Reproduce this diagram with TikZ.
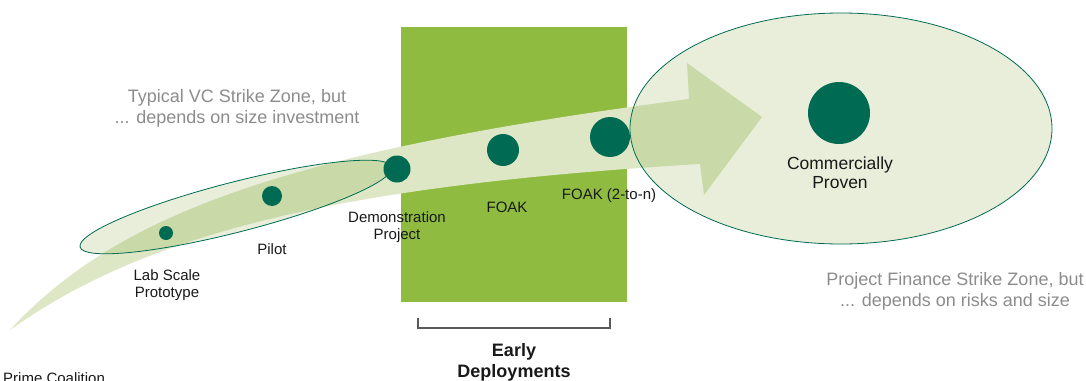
\documentclass[tikz,border=0pt]{standalone}
\usepackage{fontspec}
\setmainfont{Liberation Sans}
\definecolor{dotgreen}{RGB}{0,107,82}
\definecolor{boxgreen}{RGB}{142,187,64}
\definecolor{bandgreen}{RGB}{221,231,198}
\definecolor{zonegreen}{RGB}{98,139,0}
\definecolor{zonegrey}{RGB}{140,140,140}
\definecolor{labelblack}{RGB}{25,25,25}
\definecolor{bracketgrey}{RGB}{90,90,90}

\begin{document}
\begin{tikzpicture}[x=1pt,y=-1pt,
	stage/.style={circle,fill=dotgreen,inner sep=0pt,minimum size=#1},
	lbl/.style={font=\fontsize{15}{17}\selectfont,text=labelblack,align=center,inner sep=0pt,anchor=base},
	zone/.style={draw=dotgreen,line width=0.8pt,fill=zonegreen,fill opacity=0.15},
	zonetxt/.style={font=\fontsize{18}{21}\selectfont,text=zonegrey,align=center,inner sep=0pt,anchor=base}]
	\useasboundingbox (0,0) rectangle (1086,380);
	\fill[boxgreen] (401,27) rectangle (627,302);
	\coordinate (tail) at (10,330);
	\coordinate (shafttop) at (689,99);
	\coordinate (shaftbot) at (700,164);
	\fill[bandgreen] (tail) .. controls (120,210) and (300,150) .. (shafttop) -- (687,63) -- (762,117) -- (704,195) -- (shaftbot) .. controls (350,185) and (150,230) .. (tail) -- cycle;
	\path[zone] (841,128.5) ellipse [x radius=211, y radius=115.5];
	\path[zone, rotate around={14.4:(236,207)}] (236,207) ellipse [x radius=161, y radius=25];
	\node[stage=14pt] (lab) at (166,233) {};
	\node[stage=20pt] (pilot) at (272,196) {};
	\node[stage=27pt] (demo) at (397,169) {};
	\node[stage=32pt] (foak) at (503,150) {};
	\node[stage=40pt] (foakn) at (610,137) {};
	\node[stage=62pt] (comm) at (839,113) {};
	\node[lbl] (labtxt) at (167,297) {Lab Scale\\Prototype};
	\node[lbl] (pilottxt) at (272,254) {Pilot};
	\node[lbl] (demotxt) at (397,239) {Demonstration\\Project};
	\node[lbl] (foaktxt) at (507,212) {FOAK};
	\node[lbl] (foakntxt) at (609,199) {FOAK (2-to-n)};
	\node[lbl, font=\fontsize{17.5}{19}\selectfont] (commtxt) at (840,188) {Commercially\\Proven};
	\node[zonetxt] (vctxt) at (237,123) {Typical VC Strike Zone, but\\... depends on size investment};
	\node[zonetxt] (pftxt) at (955,306) {Project Finance Strike Zone, but\\... depends on risks and size};
	\coordinate (brl) at (418,318);
	\coordinate (brr) at (610,318);
	\draw[bracketgrey, line width=1.5pt] (brl) -- ++(0,10) -| (brr);
	\node[lbl, font=\bfseries\fontsize{18}{21}\selectfont] (early) at (514,377) {Early\\Deployments};
	\node[lbl, anchor=base west] (credit) at (3,383) {Prime Coalition};
\end{tikzpicture}
\end{document}
